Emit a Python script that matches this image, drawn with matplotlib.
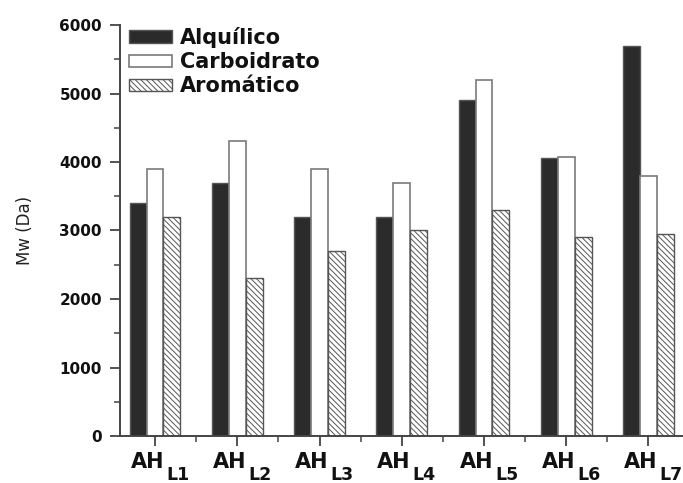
import matplotlib
matplotlib.use("Agg")
import matplotlib.pyplot as plt
from matplotlib.ticker import MultipleLocator
import numpy as np

# Sample groups and molecular weight per fraction type
categories = ["L1", "L2", "L3", "L4", "L5", "L6", "L7"]
alquilico = [3400, 3700, 3200, 3200, 4900, 4060, 5700]
carboidrato = [3900, 4300, 3900, 3700, 5200, 4070, 3800]
aromatico = [3200, 2300, 2700, 3000, 3300, 2900, 2950]
series_names = ["Alquílico", "Carboidrato", "Aromático"]

plt.rcParams["hatch.linewidth"] = 0.7
plt.rcParams["hatch.color"] = "#909090"

fig = plt.figure(figsize=(6.83, 4.83), dpi=100)
ax = fig.add_axes([120 / 683, 47 / 483, 563 / 683, 411 / 483])

x = np.arange(len(categories))
w = 0.205

ax.bar(x - w, alquilico, w, color="#2b2b2b", edgecolor="#555555",
       linewidth=1.0, label=series_names[0])
ax.bar(x, carboidrato, w, color="white", edgecolor="#7a7a7a",
       linewidth=1.2, label=series_names[1])
ax.bar(x + w, aromatico, w, color="white", edgecolor="#555555",
       linewidth=1.0, hatch="\\\\\\\\\\\\", label=series_names[2])

ax.set_xlim(-0.426, 6.42)
ax.set_ylim(0, 6000)

for s in ["top", "right"]:
    ax.spines[s].set_visible(False)
for s in ["left", "bottom"]:
    ax.spines[s].set_color("#444444")
    ax.spines[s].set_linewidth(1.4)

ax.yaxis.set_major_locator(MultipleLocator(1000))
ax.yaxis.set_minor_locator(MultipleLocator(500))
ax.set_xticks(x)
ax.xaxis.set_minor_locator(MultipleLocator(0.5))
ax.set_xticklabels([])
ax.tick_params(axis="both", which="major", direction="out", length=7,
               width=1.3, color="#444444")
ax.tick_params(axis="both", which="minor", direction="out", length=4,
               width=1.1, color="#444444")
ax.tick_params(axis="y", which="major", pad=6)

for lab in ax.get_yticklabels():
    lab.set_fontfamily("DejaVu Sans")
    lab.set_fontweight("bold")
    lab.set_fontsize(11)
    lab.set_color("#111111")

ax.set_ylabel("Mw (Da)", fontsize=12, family="DejaVu Sans", color="#222222")
ax.yaxis.set_label_coords(-0.152, 0.5)

# Category labels: "AH" with a large subscript
for xi, c in zip(x, categories):
    ax.annotate("AH", xy=(xi, 0), xycoords=("data", "axes fraction"),
                xytext=(6.5, -23), textcoords="offset points",
                ha="right", va="baseline", fontsize=15, fontweight="bold",
                family="DejaVu Sans", color="#111111", annotation_clip=False)
    ax.annotate(c, xy=(xi, 0), xycoords=("data", "axes fraction"),
                xytext=(7.9, -31.7), textcoords="offset points",
                ha="left", va="baseline", fontsize=12.5, fontweight="bold",
                family="DejaVu Sans", color="#111111", annotation_clip=False)

leg = ax.legend(loc="upper left", bbox_to_anchor=(0.016, 0.995),
                frameon=False, borderaxespad=0, borderpad=0,
                handlelength=2.05, handleheight=0.55, handletextpad=0.4,
                labelspacing=0.2,
                prop={"family": "DejaVu Sans", "weight": "bold", "size": 15})
for t in leg.get_texts():
    t.set_color("#111111")

fig.savefig("out.png", dpi=100)
